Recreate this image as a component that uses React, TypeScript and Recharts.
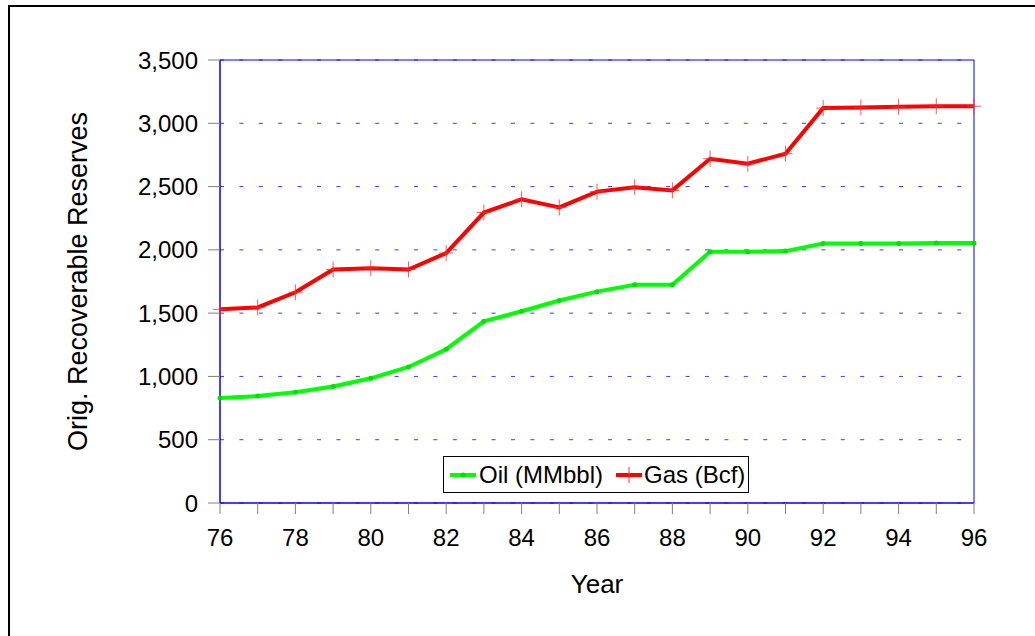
import React from 'react';
import { LineChart, Line, XAxis, YAxis, CartesianGrid, Legend, ReferenceArea } from 'recharts';

const years = [76, 77, 78, 79, 80, 81, 82, 83, 84, 85, 86, 87, 88, 89, 90, 91, 92, 93, 94, 95, 96];
const oilMMbbl = [830, 845, 875, 920, 985, 1075, 1215, 1435, 1515, 1600, 1670, 1725, 1725, 1985, 1985, 1990, 2050, 2050, 2050, 2055, 2055];
const gasBcf = [1530, 1545, 1665, 1845, 1855, 1845, 1975, 2295, 2400, 2335, 2460, 2495, 2470, 2720, 2680, 2760, 3120, 3125, 3130, 3135, 3135];
const yTicks = [0, 500, 1000, 1500, 2000, 2500, 3000, 3500];

const data = years.map((year, i) => ({ year, oil: oilMMbbl[i], gas: gasBcf[i] }));

const FONT = "Arial, 'Liberation Sans', sans-serif";

const PlusDot = (props: any) => {
    const { cx, cy } = props;
    if (cx == null || cy == null) return null;
    return (
        <g stroke="#ff3030" strokeWidth={1} opacity={0.8}>
            <line x1={cx - 7} y1={cy} x2={cx + 7} y2={cy} />
            <line x1={cx} y1={cy - 8} x2={cx} y2={cy + 8} />
        </g>
    );
};

const SmallDot = (props: any) => {
    const { cx, cy } = props;
    if (cx == null || cy == null) return null;
    return <circle cx={cx} cy={cy} r={2.5} fill="#00e000" />;
};

const LegendBox = () => (
    <div
        style={{
            width: 306,
            height: 37,
            boxSizing: 'border-box',
            border: '1px solid #000',
            background: '#fff',
            display: 'flex',
            alignItems: 'center',
            fontFamily: FONT,
            fontSize: 24,
            color: '#000',
            paddingLeft: 5,
        }}
    >
        <svg width={28} height={10}>
            <line x1={1} y1={5} x2={27} y2={5} stroke="#00ff00" strokeWidth={4} />
            <circle cx={14} cy={5} r={2.5} fill="#00e000" />
        </svg>
        <span style={{ marginLeft: 2 }}>Oil (MMbbl)</span>
        <svg width={28} height={20} style={{ marginLeft: 12 }}>
            <line x1={1} y1={10} x2={27} y2={10} stroke="#ff0000" strokeWidth={4} />
            <line x1={14} y1={2} x2={14} y2={18} stroke="#ff3030" strokeWidth={1} />
        </svg>
        <span style={{ marginLeft: 1 }}>Gas (Bcf)</span>
    </div>
);

export default function App() {
    return (
        <div style={{ position: 'fixed', left: 0, top: 0, width: 1035, height: 636, overflow: 'hidden', background: '#fff' }}>
            <div style={{ position: 'absolute', left: 8, top: 5, width: 1100, height: 700, border: '2px solid #000', boxSizing: 'border-box' }} />
            <div style={{ position: 'absolute', left: 0, top: 0 }}>
                <LineChart width={1035} height={636} data={data} margin={{ top: 60, right: 61, bottom: 73, left: 60 }}>
                    <CartesianGrid vertical={false} stroke="#3a3aff" strokeDasharray="4 15.4" />
                    <XAxis
                        dataKey="year"
                        type="number"
                        domain={[76, 96]}
                        ticks={years}
                        interval={0}
                        tickFormatter={(v: number) => (v % 2 === 0 ? String(v) : '')}
                        height={60}
                        axisLine={{ stroke: '#0000ff' }}
                        tickLine={{ stroke: '#808080' }}
                        tickSize={11}
                        tickMargin={15}
                        tick={{ fill: '#000', fontSize: 24, fontFamily: FONT }}
                        label={{ value: 'Year', position: 'center', dy: 51, fill: '#000', fontSize: 26, fontFamily: FONT }}
                    />
                    <YAxis
                        type="number"
                        domain={[0, 3500]}
                        ticks={yTicks}
                        interval={0}
                        width={160}
                        tickFormatter={(v: number) => v.toLocaleString('en-US')}
                        axisLine={{ stroke: '#0000ff' }}
                        tickLine={{ stroke: '#808080' }}
                        tickSize={12}
                        tickMargin={10}
                        tick={{ fill: '#000', fontSize: 24, fontFamily: FONT }}
                        label={{ value: 'Orig. Recoverable Reserves', angle: -90, position: 'center', dx: -63, fill: '#000', fontSize: 27, fontFamily: FONT }}
                    />
                    <ReferenceArea x1={76} x2={96} y1={0} y2={3500} fill="none" stroke="#0000ff" strokeWidth={1} ifOverflow="visible" />
                    <Line
                        type="linear"
                        dataKey="oil"
                        name="Oil (MMbbl)"
                        stroke="#00ff00"
                        strokeWidth={4}
                        dot={<SmallDot />}
                        activeDot={false}
                        isAnimationActive={false}
                    />
                    <Line
                        type="linear"
                        dataKey="gas"
                        name="Gas (Bcf)"
                        stroke="#ff0000"
                        strokeWidth={4}
                        dot={<PlusDot />}
                        activeDot={false}
                        isAnimationActive={false}
                    />
                    <Legend
                        layout="horizontal"
                        verticalAlign="middle"
                        align="center"
                        content={<LegendBox />}
                        wrapperStyle={{ left: 443, top: 456, width: 306, height: 37 }}
                    />
                </LineChart>
            </div>
        </div>
    );
}
